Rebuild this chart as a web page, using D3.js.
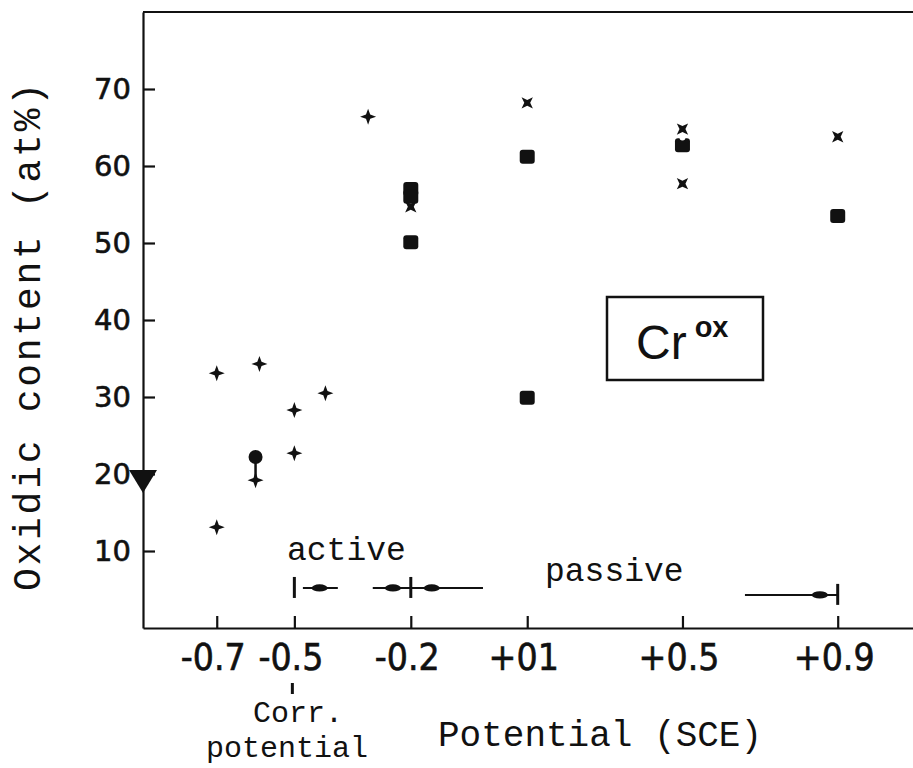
<!DOCTYPE html>
<html>
<head>
<meta charset="utf-8">
<script src="https://cdn.jsdelivr.net/npm/d3@7"></script>
<style>
  body { margin: 0; background: #fff; }
  svg { display: block; }
</style>
</head>
<body>
<script>
// potential (V vs SCE) and oxidic Cr content (at%)
const crossV  = [-0.7, -0.7, -0.59, -0.6, -0.5, -0.5, -0.42, -0.31];
const crossOx = [33.1, 13.1, 34.3, 19.2, 28.3, 22.7, 30.5, 66.4];

const starV  = [-0.2, 0.1, 0.5, 0.5, 0.9];
const starOx = [54.7, 68.2, 64.8, 57.7, 63.8];

const squareV  = [-0.2, -0.2, -0.2, 0.1, 0.1, 0.5, 0.9];
const squareOx = [57.0, 56.0, 50.1, 61.2, 29.9, 62.7, 53.5];

const circleV  = [-0.6];
const circleOx = [22.2];

const openV  = [0.5];
const openOx = [63.7];

const triOx = [19.1];

// active / passive potential ranges along the bottom
const rangeFrom  = [-0.478, -0.298, 0.661];
const rangeTo    = [-0.388, -0.014, 0.9];
const rangeLevel = [5.2, 5.2, 4.3];
const rangeMark  = [-0.5, -0.2, 0.9];
const rangeBlobs = [[-0.435], [-0.246, -0.146], [0.854]];

const xTicks = [-0.7, -0.5, -0.2, 0.1, 0.5, 0.9];
const xTickLabels = ["-0.7", "-0.5", "-0.2", "+01", "+0.5", "+0.9"];
const yTicks = [10, 20, 30, 40, 50, 60, 70];

const W = 913, H = 768;
const x = d3.scaleLinear().domain([-0.89, 1.094]).range([143, 913]);
const y = d3.scaleLinear().domain([0, 80]).range([628, 12]);

const svg = d3.select("body").append("svg")
  .attr("width", W).attr("height", H);

const mono = "'Liberation Mono', 'DejaVu Sans Mono', monospace";

// frame: top line
svg.append("line")
  .attr("x1", x(-0.89)).attr("x2", W)
  .attr("y1", y(80)).attr("y2", y(80))
  .attr("stroke", "#111").attr("stroke-width", 2.2);

// x axis
const xAxis = svg.append("g")
  .attr("transform", `translate(0,${y(0)})`)
  .call(d3.axisBottom(x).tickValues(xTicks)
    .tickFormat((d, i) => xTickLabels[i])
    .tickSizeInner(-12).tickSizeOuter(0).tickPadding(16));
xAxis.select(".domain").attr("stroke", "#111").attr("stroke-width", 2.2);
xAxis.selectAll(".tick line").attr("stroke", "#111").attr("stroke-width", 2.2);
xAxis.selectAll(".tick text")
  .attr("fill", "#111").attr("stroke", "#111").attr("stroke-width", 0.6)
  .attr("dx", -4)
  .style("font-family", "'DejaVu Sans Condensed', 'DejaVu Sans', sans-serif")
  .style("font-stretch", "condensed")
  .style("font-size", "37px");

// y axis
const yAxis = svg.append("g")
  .attr("transform", `translate(${x(-0.89)},0)`)
  .call(d3.axisLeft(y).tickValues(yTicks)
    .tickSizeInner(-12).tickSizeOuter(0).tickPadding(12));
yAxis.select(".domain").attr("stroke", "#111").attr("stroke-width", 2.2);
yAxis.selectAll(".tick line").attr("stroke", "#111").attr("stroke-width", 2.2);
yAxis.selectAll(".tick text")
  .attr("fill", "#111").attr("stroke", "#111").attr("stroke-width", 0.6)
  .style("font-family", "'DejaVu Sans', sans-serif")
  .style("font-size", "29px");

// axis titles
svg.append("text")
  .attr("transform", `translate(40,${337}) rotate(-90)`)
  .attr("text-anchor", "middle")
  .attr("textLength", 508).attr("lengthAdjust", "spacing")
  .style("font-family", mono).style("font-size", "38px").attr("fill", "#111")
  .text("Oxidic content (at%)");

svg.append("text")
  .attr("x", 438).attr("y", 746)
  .style("font-family", mono).style("font-size", "36px").attr("fill", "#111")
  .text("Potential (SCE)");

svg.append("text")
  .attr("x", 298).attr("y", 722).attr("text-anchor", "middle")
  .style("font-family", mono).style("font-size", "30px").attr("fill", "#111")
  .text("Corr.");
svg.append("text")
  .attr("x", 287).attr("y", 757).attr("text-anchor", "middle")
  .style("font-family", mono).style("font-size", "30px").attr("fill", "#111")
  .text("potential");
svg.append("line")
  .attr("x1", x(-0.5) - 2).attr("x2", x(-0.5) - 2)
  .attr("y1", 683).attr("y2", 694)
  .attr("stroke", "#111").attr("stroke-width", 3);

// active / passive labels
svg.append("text")
  .attr("x", 287).attr("y", 560)
  .style("font-family", mono).style("font-size", "33px").attr("fill", "#111")
  .text("active");
svg.append("text")
  .attr("x", 545).attr("y", 581)
  .style("font-family", mono).style("font-size", "33px").attr("fill", "#111")
  .text("passive");

// potential ranges
const ranges = rangeFrom.map((f, i) => ({
  from: f, to: rangeTo[i], level: rangeLevel[i], mark: rangeMark[i], blobs: rangeBlobs[i]
}));
const rg = svg.append("g").attr("fill", "#111").attr("stroke", "#111");
ranges.forEach(r => {
  rg.append("line")
    .attr("x1", x(r.from)).attr("x2", x(r.to))
    .attr("y1", y(r.level)).attr("y2", y(r.level))
    .attr("stroke-width", 2);
  rg.append("line")
    .attr("x1", x(r.mark)).attr("x2", x(r.mark))
    .attr("y1", y(r.level) - 11).attr("y2", y(r.level) + 10)
    .attr("stroke-width", 3);
  r.blobs.forEach(b => {
    rg.append("ellipse")
      .attr("cx", x(b)).attr("cy", y(r.level))
      .attr("rx", 8).attr("ry", 3.6).attr("stroke", "none");
  });
});

// Cr ox label box
svg.append("rect")
  .attr("x", 607).attr("y", 297).attr("width", 156).attr("height", 83)
  .attr("fill", "none").attr("stroke", "#111").attr("stroke-width", 2.5);
const cr = svg.append("text")
  .attr("x", 636).attr("y", 359)
  .style("font-family", "'Liberation Sans', Arial, sans-serif")
  .style("font-size", "48px").attr("fill", "#111");
cr.append("tspan").text("Cr");
cr.append("tspan").attr("dx", 8).attr("dy", -22)
  .style("font-size", "29px").style("font-weight", "bold").text("ox");

// markers
const sparkle = (r, w) => `M0,${-r}L${w},${-w}L${r},0L${w},${w}L0,${r}L${-w},${w}L${-r},0L${-w},${-w}Z`;

// stem from the circle down to the cross below it
svg.append("line")
  .attr("x1", x(circleV[0])).attr("x2", x(circleV[0]))
  .attr("y1", y(circleOx[0])).attr("y2", y(crossOx[3]))
  .attr("stroke", "#111").attr("stroke-width", 2.5);

svg.append("g").selectAll("path")
  .data(crossV.map((v, i) => [v, crossOx[i]]))
  .join("path")
  .attr("transform", d => `translate(${x(d[0])},${y(d[1])})`)
  .attr("d", sparkle(8, 2.1)).attr("fill", "#111");

svg.append("g").selectAll("rect")
  .data(squareV.map((v, i) => [v, squareOx[i]]))
  .join("rect")
  .attr("x", d => x(d[0]) - 7.5).attr("y", d => y(d[1]) - 7)
  .attr("width", 15).attr("height", 14).attr("rx", 3)
  .attr("fill", "#111");

svg.append("g").selectAll("path")
  .data(starV.map((v, i) => [v, starOx[i]]))
  .join("path")
  .attr("transform", d => `translate(${x(d[0])},${y(d[1])}) rotate(45)`)
  .attr("d", sparkle(8, 2.1)).attr("fill", "#111");

svg.append("g").selectAll("circle.open")
  .data(openV.map((v, i) => [v, openOx[i]]))
  .join("circle")
  .attr("cx", d => x(d[0])).attr("cy", d => y(d[1]))
  .attr("r", 3).attr("fill", "#fff");

svg.append("g").selectAll("circle.fill")
  .data(circleV.map((v, i) => [v, circleOx[i]]))
  .join("circle")
  .attr("cx", d => x(d[0])).attr("cy", d => y(d[1]))
  .attr("r", 7).attr("fill", "#111");

// corrosion-state marker on the y axis
svg.append("g").selectAll("path")
  .data(triOx)
  .join("path")
  .attr("transform", d => `translate(${x(-0.89)},${y(d)})`)
  .attr("d", "M-14,-11L14,-11L0,12Z").attr("fill", "#111");
</script>
</body>
</html>
